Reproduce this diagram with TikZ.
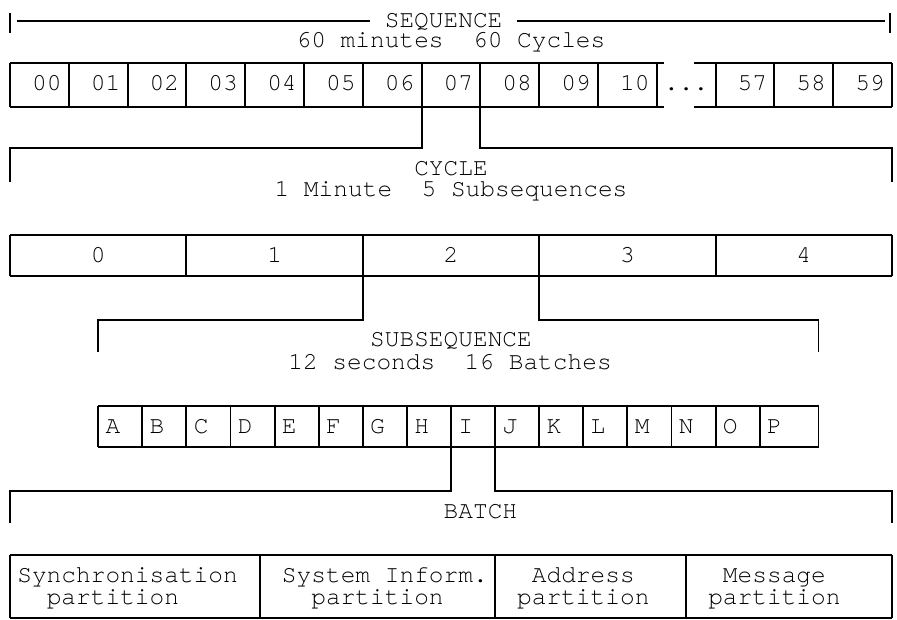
\documentclass[tikz,border=0pt]{standalone}
\usepackage{fontspec}
\newfontfamily\cur{TeX Gyre Cursor}
\begin{document}
\begin{tikzpicture}[x=1pt,y=-1pt,
  lbl/.style={inner sep=0pt, anchor=base, text height=14pt, text depth=3pt, font=\cur\fontsize{24.5}{24.5}\selectfont},
  rule/.style={line width=1.9pt, line cap=butt, line join=miter, draw=black}]
\useasboundingbox (0,0) rectangle (897,620);
% ---------- SEQUENCE ----------
\node[lbl] (seq) at (443.6,28) {SEQUENCE};
\node[lbl] (seqsub) at (451,48) {60 minutes\ \ 60 Cycles};
\coordinate (s1a) at (10,13); \coordinate (s1b) at (10,33);
\coordinate (s2a) at (890,13); \coordinate (s2b) at (890,33);
\draw[rule] (s1a) -- (s1b);
\draw[rule] (s2a) -- (s2b);
\draw[rule] (17.4,21) -- (370,21);
\draw[rule] (517,21) -- (884.6,21);
% ---------- minutes row ----------
\draw[rule] (10,63) -- (664,63);
\draw[rule] (694,63) -- (892,63);
\draw[rule] (10,107) -- (664,107);
\draw[rule] (694,107) -- (892,107);
\foreach \k in {0,...,15} {\draw[rule] ({10+58.8*\k},63) -- ({10+58.8*\k},107);}
\foreach \k/\t in {0/00,1/01,2/02,3/03,4/04,5/05,6/06,7/07,8/08,9/09,10/10,12/57,13/58,14/59}
  {\node[lbl] (m\k) at ({10+14.7*(4*\k+2.5)},90.7) {\t};}
\node[lbl] (mdots) at ({10+14.7*46},90.7) {...};
% connectors to CYCLE
\draw[rule] ({10+14.7*28},107) -- ({10+14.7*28},148) -- (10,148) -- (10,182);
\draw[rule] ({10+14.7*32},107) -- ({10+14.7*32},148) -- (892,148) -- (892,182);
\node[lbl] (cyc) at (451,176) {CYCLE};
\node[lbl] (cycsub) at (451,197) {1 Minute\ \ 5 Subsequences};
% ---------- subsequence row ----------
\draw[rule] (10,235) -- (892,235);
\draw[rule] (10,276) -- (892,276);
\foreach \j in {0,...,5} {\draw[rule] ({10+14.7*12*\j},235) -- ({10+14.7*12*\j},276);}
\foreach \j in {0,...,4} {\node[lbl] (c\j) at ({10+14.7*(12*\j+6)},262.7) {\j};}
% connectors to SUBSEQUENCE
\draw[rule] ({10+14.7*24},276) -- ({10+14.7*24},320) -- ({10+14.7*6},320) -- ({10+14.7*6},352);
\draw[rule] ({10+14.7*36},276) -- ({10+14.7*36},320) -- ({10+14.7*55},320) -- ({10+14.7*55},352);
\node[lbl] (sub) at (451,347) {SUBSEQUENCE};
\node[lbl] (subsub) at (450,369) {12 seconds\ \ 16 Batches};
% ---------- batch row ----------
\draw[rule] ({10+14.7*6},406) -- ({10+14.7*55},406);
\draw[rule] ({10+14.7*6},447) -- ({10+14.7*55},447);
\foreach \m in {0,...,15} {\draw[rule] ({10+14.7*(6+3*\m)},406) -- ({10+14.7*(6+3*\m)},447);}
\draw[rule] ({10+14.7*55},406) -- ({10+14.7*55},447);
\foreach \m/\t in {0/A,1/B,2/C,3/D,4/E,5/F,6/G,7/H,8/I,9/J,10/K,11/L,12/M,13/N,14/O,15/P}
  {\node[lbl] (b\m) at ({10+14.7*(7+3*\m)},433) {\t};}
% connectors to BATCH
\draw[rule] ({10+14.7*30},447) -- ({10+14.7*30},491) -- (10,491) -- (10,523);
\draw[rule] ({10+14.7*33},447) -- ({10+14.7*33},491) -- (892,491) -- (892,523);
\node[lbl] (bat) at ({10+14.7*32},518) {BATCH};
% ---------- partitions row ----------
\draw[rule] (10,555) -- (892,555);
\draw[rule] (10,618) -- (892,618);
\foreach \c in {0,17,33,46,60} {\draw[rule] ({10+14.7*\c},555) -- ({10+14.7*\c},618);}
\node[lbl] (p1a) at ({10+14.7*8},582) {Synchronisation};
\node[lbl] (p1b) at ({10+14.7*7},604) {partition};
\node[lbl] (p2a) at ({10+14.7*25.5},582) {System Inform.};
\node[lbl] (p2b) at ({10+14.7*25},604) {partition};
\node[lbl] (p3a) at ({10+14.7*39},582) {Address};
\node[lbl] (p3b) at ({10+14.7*39},604) {partition};
\node[lbl] (p4a) at ({10+14.7*52},582) {Message};
\node[lbl] (p4b) at ({10+14.7*52},604) {partition};
\end{tikzpicture}
\end{document}
